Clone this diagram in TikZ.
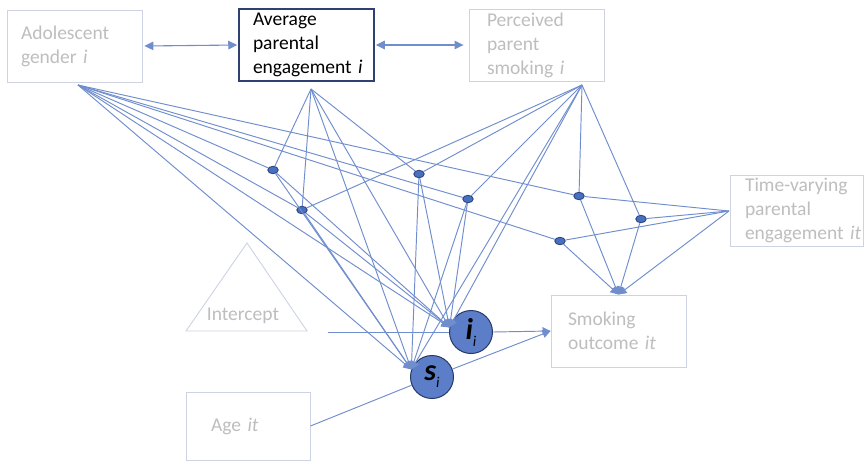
\documentclass[tikz,border=0pt]{standalone}
\usepackage{fontspec}
\setmainfont{Carlito}
\usetikzlibrary{arrows.meta,shapes.geometric}
\definecolor{lnc}{RGB}{112,142,206}
\definecolor{boxc}{RGB}{206,211,228}
\definecolor{txtc}{RGB}{190,190,190}
\definecolor{apec}{RGB}{47,65,112}
\definecolor{dotf}{RGB}{72,112,192}
\definecolor{dotd}{RGB}{40,62,118}
\definecolor{latf}{RGB}{92,126,200}
\definecolor{latd}{RGB}{38,56,102}
\begin{document}
\begin{tikzpicture}[x=1pt,y=-1pt,
  lbox/.style={draw=boxc, line width=0.9pt, text=txtc, align=left,
    font=\fontsize{19.5}{24}\selectfont, inner ysep=0pt, minimum height=72pt},
  txt/.style={text=txtc, font=\fontsize{19.5}{24}\selectfont, inner sep=0pt},
  dotn/.style={ellipse, draw=dotd, fill=dotf, line width=0.8pt, minimum width=10.5pt, minimum height=7.5pt, inner sep=0pt},
  lat/.style={circle, draw=latd, fill=latf, line width=1pt, minimum size=43pt, inner sep=0pt},
  ln/.style={draw=lnc, line width=0.95pt},
  arr/.style={ln, -{Triangle[length=8pt,width=8pt]}},
  dbl/.style={ln, line width=1.1pt, {Triangle[length=9pt,width=8.5pt]}-{Triangle[length=9pt,width=8.5pt]}}
]
\useasboundingbox (0,0) rectangle (864,461);
\fill[white] (0,0) rectangle (864,461);

% boxes
\node[lbox, minimum width=135pt, text width=107pt, inner xsep=14pt] (gender) at (74.5,46) {Adolescent\\gender \emph{i}};
\node[lbox, draw=apec, line width=1.5pt, text=black, minimum width=135pt, text width=107pt, inner xsep=14pt] (ape) at (306.5,45) {Average\\parental\\engagement~\emph{i}};
\node[lbox, minimum width=135pt, text width=99pt, inner xsep=18pt] (pps) at (536.5,45) {Perceived\\parent\\smoking \emph{i}};
\node[lbox, minimum width=133pt, minimum height=71pt, text width=103pt, inner xsep=15pt] (tvpe) at (796.5,210.5) {Time-varying\\parental\\engagement~\emph{it}};
\node[lbox, minimum width=135pt, text width=101pt, inner xsep=17pt] (out) at (618.5,331) {Smoking\\outcome \emph{it}};
\node[lbox, minimum width=124pt, minimum height=68pt, text width=74pt, inner xsep=25pt] (age) at (248,426) {Age \emph{it}};

% intercept triangle
\draw[draw=boxc, line width=0.9pt] (247,243) -- (307,331) -- (186,331) -- cycle;
\node[txt] (intercept) at (243,316) {Intercept};

% source points
\coordinate (G) at (78,85);
\coordinate (A) at (311,89);
\coordinate (P) at (582,85);
\coordinate (T) at (729,211);
\coordinate (intc) at (328,332);

% interaction dots
\node[dotn] (d1) at (273,170) {};
\node[dotn] (d2) at (302,210) {};
\node[dotn] (d3) at (419,174) {};
\node[dotn] (d4) at (468,199) {};
\node[dotn] (d5) at (579,196) {};
\node[dotn] (d6) at (641,219) {};
\node[dotn] (d7) at (560,241) {};

% latent growth factors
\node[lat] (ii) at (471,332) {\fontsize{30}{30}\selectfont\bfseries\itshape i\raisebox{-7pt}{\fontsize{15}{15}\selectfont\mdseries i}};
\node[lat] (si) at (432,377) {\fontsize{30}{30}\selectfont\bfseries\itshape s\raisebox{-7pt}{\fontsize{15}{15}\selectfont\mdseries i}};

% correlations
\draw[dbl] ([xshift=2pt]gender.east) -- ([xshift=-1pt]ape.west);
\draw[dbl] ([xshift=1pt]ape.east) -- ([xshift=-5pt]pps.west);

% intercept and age paths
\draw[ln] (intc) -- (ii.west);
\draw[arr] (ii.east) -- (out.west);
\draw[ln] (age.east) -- (si);
\draw[arr] (si) -- (out.west);

% lines into interaction dots
\foreach \d in {d1,d2,d4,d5,d7} \draw[ln] (G) -- (\d);
\foreach \d in {d1,d2,d3} \draw[ln] (A) -- (\d);
\foreach \d in {d2,d3,d4,d5,d6} \draw[ln] (P) -- (\d);
\foreach \d in {d5,d6,d7} \draw[ln] (T) -- (\d);

% paths to i and s
\foreach \s in {G,A,P} {
  \draw[arr] (\s) -- (ii.168);
  \draw[arr] (\s) -- (si.160);
}
\foreach \d in {d1,d2,d3,d4} {
  \draw[arr] (\d) -- (ii.168);
  \draw[arr] (\d) -- (si.160);
}

% paths to smoking outcome
\foreach \d in {d5,d6,d7} \draw[arr] (\d) -- (out.north);
\draw[arr] (T) -- (out.north);
\end{tikzpicture}
\end{document}
